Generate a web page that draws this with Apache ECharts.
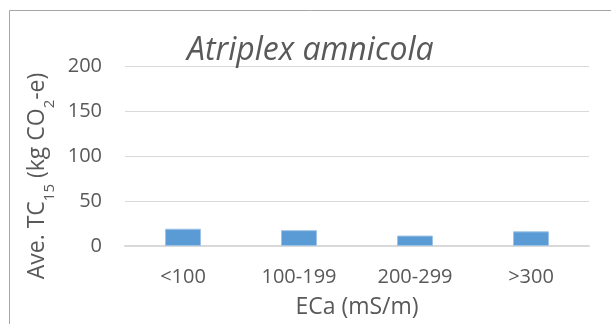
<!DOCTYPE html>
<html><head><meta charset="utf-8">
<script src="https://cdn.jsdelivr.net/npm/echarts@6/dist/echarts.min.js"></script>
<style>html,body{margin:0;padding:0;background:#fff}#c{width:611px;height:324px}</style>
</head><body><div id="c"></div>
<script>
const categories = ['<100', '100-199', '200-299', '>300'];
const values = [19.2, 17.6, 11.6, 16.3];
const yTicks = [0, 50, 100, 150, 200];
const titleText = 'Atriplex amnicola';
const xTitle = 'ECa (mS/m)';

const chart = echarts.init(document.getElementById('c'), null, {renderer: 'canvas'});
const font = '"Open Sans", "Noto Sans", sans-serif';
const grey = '#595959';
chart.setOption({
  animation: false,
  backgroundColor: '#fff',
  title: {
    text: titleText, left: 182, top: 30,
    textStyle: {fontFamily: font, fontStyle: 'italic', fontWeight: 'normal', fontSize: 32, color: grey}
  },
  graphic: [
    {type: 'line', shape: {x1: 9.5, y1: 10.5, x2: 611, y2: 10.5}, style: {stroke: '#a6a6a6', lineWidth: 1}},
    {type: 'line', shape: {x1: 9.5, y1: 10.5, x2: 9.5, y2: 324}, style: {stroke: '#a6a6a6', lineWidth: 1}}
  ],
  grid: {left: 125, right: 22, top: 66, bottom: 74, containLabel: false},
  xAxis: {
    type: 'category', data: categories,
    axisLine: {show: true, lineStyle: {color: '#d9d9d9', width: 2}},
    axisTick: {show: false},
    axisLabel: {fontFamily: font, fontSize: 20, color: grey, margin: 21},
    name: xTitle, nameLocation: 'middle', nameGap: 50,
    nameTextStyle: {fontFamily: font, fontSize: 23, color: grey}
  },
  yAxis: {
    type: 'value', min: yTicks[0], max: yTicks[yTicks.length - 1], interval: 50,
    axisLine: {show: false}, axisTick: {show: false},
    splitLine: {lineStyle: {color: '#d9d9d9', width: 1}},
    axisLabel: {fontFamily: font, fontSize: 20, color: grey, margin: 23},
    name: '{n|Ave. TC}{s|15}{n| (kg CO}{s|2}{n|-e)}',
    nameLocation: 'middle', nameGap: 72,
    nameTextStyle: {
      fontFamily: font, fontSize: 23, color: grey, padding: [0, 40, 0, 0],
      rich: {
        n: {fontFamily: font, fontSize: 23, color: grey},
        s: {fontFamily: font, fontSize: 15, color: grey, verticalAlign: 'bottom', padding: [0, 0, -8, 0]}
      }
    }
  },
  series: [{
    type: 'bar', data: values, barWidth: '31%',
    itemStyle: {color: '#5b9bd5', borderColor: '#9dc3e6', borderWidth: 1}
  }]
});
</script></body></html>
